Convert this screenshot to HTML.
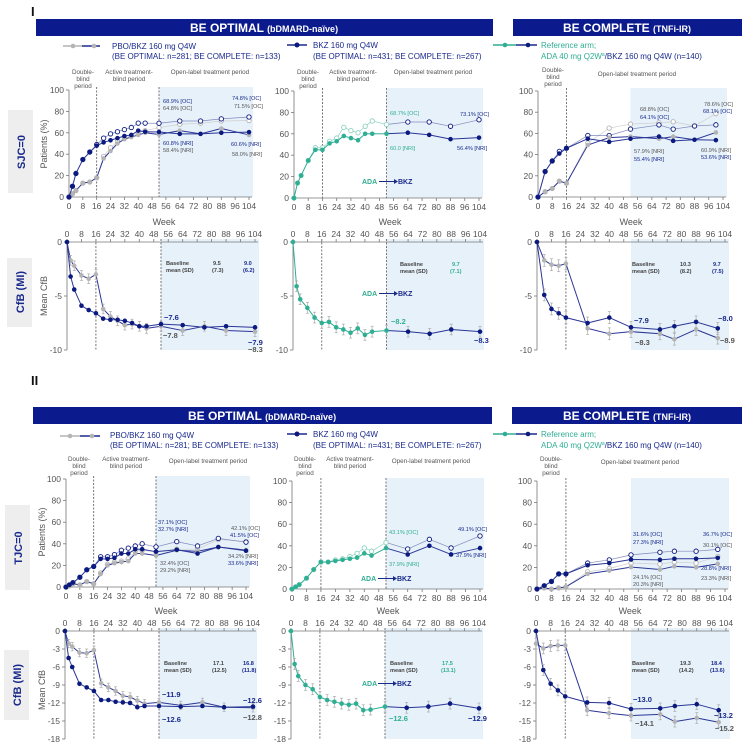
<!DOCTYPE html>
<html><head><meta charset="utf-8">
<style>
body{margin:0;background:#fff;}
svg{display:block;font-family:"Liberation Sans",sans-serif;}
.pl{font-size:6.3px;fill:#555;text-anchor:middle}
.tk{font-size:8.5px;fill:#555}
.an{font-size:5.6px}
.nv{fill:#1a2a8c}.gr{fill:#555}.gn{fill:#2fae93}
</style></head>
<body>
<svg id="fig" width="746" height="749" viewBox="0 0 746 749">
<!-- Section I -->
<text x="31" y="16" font-size="13" font-weight="bold" fill="#111">I</text>
<rect x="36" y="19" width="457" height="17" fill="#0b1a8c"/>
<text x="264" y="32" font-size="12" font-weight="bold" fill="#fff" text-anchor="middle">BE OPTIMAL <tspan font-size="9">(bDMARD-naïve)</tspan></text>
<rect x="513" y="19" width="229" height="17" fill="#0b1a8c"/>
<text x="627" y="32" font-size="12" font-weight="bold" fill="#fff" text-anchor="middle">BE COMPLETE <tspan font-size="9">(TNFi-IR)</tspan></text>
<g>
<line x1="63" y1="46" x2="82" y2="46" stroke="#b4b4b4" stroke-width="1.5"/><line x1="82" y1="46" x2="100" y2="46" stroke="#1a2a8c" stroke-width="1.5"/>
<circle cx="73" cy="46" r="2.3" fill="#b4b4b4"/><circle cx="94" cy="46" r="2.3" fill="#b4b4b4"/>
<text x="112" y="49" font-size="8" fill="#1a2a8c">PBO/BKZ 160 mg Q4W</text>
<text x="112" y="59" font-size="8" fill="#1a2a8c">(BE OPTIMAL: n=281; BE COMPLETE: n=133)</text>
<line x1="287" y1="45" x2="307" y2="45" stroke="#1a2a8c" stroke-width="1.5"/><circle cx="297" cy="45" r="2.5" fill="#0b1a7e"/>
<text x="313" y="48" font-size="8" fill="#1a2a8c">BKZ 160 mg Q4W</text>
<text x="313" y="59" font-size="8" fill="#1a2a8c">(BE OPTIMAL: n=431; BE COMPLETE: n=267)</text>
<line x1="493" y1="45" x2="516" y2="45" stroke="#2fae93" stroke-width="1.5"/><line x1="516" y1="45" x2="537" y2="45" stroke="#1a2a8c" stroke-width="1.5"/>
<circle cx="505" cy="45" r="2.3" fill="#2fae93"/><circle cx="528" cy="45" r="2.3" fill="#0b1a7e"/>
<text x="541" y="48" font-size="8" fill="#2fae93">Reference arm;</text>
<text x="541" y="59" font-size="8" fill="#2fae93">ADA 40 mg Q2W<tspan font-size="5" dy="-3">a</tspan><tspan dy="3" fill="#1a2a8c">/BKZ 160 mg Q4W (n=140)</tspan></text>
</g>
<g>
<text class="pl" x="83" y="74">Double-</text><text class="pl" x="83" y="81">blind</text><text class="pl" x="83" y="88">period</text>
<text class="pl" x="129" y="74">Active treatment-</text><text class="pl" x="129" y="81">blind period</text>
<text class="pl" x="210" y="74">Open-label treatment period</text>
<text class="pl" x="308" y="74">Double-</text><text class="pl" x="308" y="81">blind</text><text class="pl" x="308" y="88">period</text>
<text class="pl" x="353" y="74">Active treatment-</text><text class="pl" x="353" y="81">blind period</text>
<text class="pl" x="433" y="74">Open-label treatment period</text>
<text class="pl" x="553" y="72">Double-</text><text class="pl" x="553" y="79">blind</text><text class="pl" x="553" y="86">period</text>
<text class="pl" x="637" y="76">Open-label treatment period</text>
</g>
<rect x="8" y="110" width="25" height="83" fill="#eee"/>
<text transform="translate(25,152) rotate(-90)" font-size="11" font-weight="bold" fill="#1a2a8c" text-anchor="middle">SJC=0</text>
<rect x="7" y="258" width="25" height="69" fill="#eee"/>
<text transform="translate(24,292) rotate(-90)" font-size="11" font-weight="bold" fill="#1a2a8c" text-anchor="middle">CfB (MI)</text>
<text transform="translate(47,144) rotate(-90)" font-size="9" fill="#555" text-anchor="middle">Patients (%)</text>
<text transform="translate(47,296) rotate(-90)" font-size="9" fill="#555" text-anchor="middle">Mean CfB</text>
<text x="164" y="225" font-size="9" fill="#555" text-anchor="middle">Week</text>
<text x="390" y="225" font-size="9" fill="#555" text-anchor="middle">Week</text>
<text x="631" y="225" font-size="9" fill="#555" text-anchor="middle">Week</text>

<!-- Section II -->
<text x="31" y="385" font-size="13" font-weight="bold" fill="#111">II</text>
<rect x="33" y="407" width="459" height="17" fill="#0b1a8c"/>
<text x="262" y="420" font-size="12" font-weight="bold" fill="#fff" text-anchor="middle">BE OPTIMAL <tspan font-size="9">(bDMARD-naïve)</tspan></text>
<rect x="512" y="407" width="230" height="17" fill="#0b1a8c"/>
<text x="627" y="420" font-size="12" font-weight="bold" fill="#fff" text-anchor="middle">BE COMPLETE <tspan font-size="9">(TNFi-IR)</tspan></text>
<g>
<line x1="60" y1="436" x2="80" y2="436" stroke="#b4b4b4" stroke-width="1.5"/><line x1="80" y1="436" x2="100" y2="436" stroke="#1a2a8c" stroke-width="1.5"/>
<circle cx="70" cy="436" r="2.3" fill="#b4b4b4"/><circle cx="92" cy="436" r="2.3" fill="#b4b4b4"/>
<text x="110" y="438" font-size="8" fill="#1a2a8c">PBO/BKZ  160 mg Q4W</text>
<text x="110" y="448" font-size="8" fill="#1a2a8c">(BE OPTIMAL: n=281; BE COMPLETE: n=133)</text>
<line x1="287" y1="434" x2="307" y2="434" stroke="#1a2a8c" stroke-width="1.5"/><circle cx="297" cy="434" r="2.5" fill="#0b1a7e"/>
<text x="313" y="437" font-size="8" fill="#1a2a8c">BKZ  160 mg Q4W</text>
<text x="313" y="448" font-size="8" fill="#1a2a8c">(BE OPTIMAL: n=431; BE COMPLETE: n=267)</text>
<line x1="493" y1="434" x2="516" y2="434" stroke="#2fae93" stroke-width="1.5"/><line x1="516" y1="434" x2="537" y2="434" stroke="#1a2a8c" stroke-width="1.5"/>
<circle cx="505" cy="434" r="2.3" fill="#2fae93"/><circle cx="528" cy="434" r="2.3" fill="#0b1a7e"/>
<text x="541" y="437" font-size="8" fill="#2fae93">Reference arm;</text>
<text x="541" y="448" font-size="8" fill="#2fae93">ADA 40 mg Q2W<tspan font-size="5" dy="-3">a</tspan><tspan dy="3" fill="#1a2a8c">/BKZ  160 mg Q4W (n=140)</tspan></text>
</g>
<g>
<text class="pl" x="79" y="461">Double-</text><text class="pl" x="79" y="468">blind</text><text class="pl" x="79" y="475">period</text>
<text class="pl" x="126" y="461">Active treatment-</text><text class="pl" x="126" y="468">blind period</text>
<text class="pl" x="208" y="463">Open-label treatment period</text>
<text class="pl" x="305" y="461">Double-</text><text class="pl" x="305" y="468">blind</text><text class="pl" x="305" y="475">period</text>
<text class="pl" x="350" y="461">Active treatment-</text><text class="pl" x="350" y="468">blind period</text>
<text class="pl" x="431" y="463">Open-label treatment period</text>
<text class="pl" x="551" y="461">Double-</text><text class="pl" x="551" y="468">blind</text><text class="pl" x="551" y="475">period</text>
<text class="pl" x="640" y="464">Open-label treatment period</text>
</g>
<rect x="5" y="505" width="25" height="85" fill="#eee"/>
<text transform="translate(22,548) rotate(-90)" font-size="11" font-weight="bold" fill="#1a2a8c" text-anchor="middle">TJC=0</text>
<rect x="4" y="650" width="25" height="70" fill="#eee"/>
<text transform="translate(21,685) rotate(-90)" font-size="11" font-weight="bold" fill="#1a2a8c" text-anchor="middle">CfB (MI)</text>
<text transform="translate(45,532) rotate(-90)" font-size="9" fill="#555" text-anchor="middle">Patients (%)</text>
<text transform="translate(45,690) rotate(-90)" font-size="9" fill="#555" text-anchor="middle">Mean CfB</text>
<text x="166" y="614" font-size="9" fill="#555" text-anchor="middle">Week</text>
<text x="388" y="614" font-size="9" fill="#555" text-anchor="middle">Week</text>
<text x="630" y="614" font-size="9" fill="#555" text-anchor="middle">Week</text>

<g id="charts"></g>

<!-- annotations -->
<g class="an">
<text x="163" y="103" class="nv">68.9% [OC]</text><text x="163" y="110" class="gr">64.8% [OC]</text>
<text x="232" y="100" class="nv">74.8% [OC]</text><text x="234" y="108" class="gr">71.5% [OC]</text>
<text x="163" y="145" class="nv">60.8% [NRI]</text><text x="163" y="152" class="gr">58.4% [NRI]</text>
<text x="231" y="146" class="nv">60.6% [NRI]</text><text x="232" y="156" class="gr">58.0% [NRI]</text>
<text x="390" y="115" class="gn">68.7% [OC]</text><text x="460" y="116" class="nv">73.1% [OC]</text>
<text x="390" y="150" class="gn">60.0 [NRI]</text><text x="457" y="150" class="nv">56.4% [NRI]</text>
<text x="640" y="111" class="gr">68.8% [OC]</text><text x="640" y="119" class="nv">64.1% [OC]</text>
<text x="704" y="106" class="gr">78.6% [OC]</text><text x="703" y="113" class="nv">68.1% [OC]</text>
<text x="634" y="153" class="gr">57.9% [NRI]</text><text x="634" y="161" class="nv">55.4% [NRI]</text>
<text x="701" y="152" class="gr">60.9% [NRI]</text><text x="701" y="159" class="nv">53.6% [NRI]</text>
<g font-weight="bold" font-size="7" fill="#2fae93"><text x="362" y="184">ADA</text><text x="362" y="296">ADA</text><text x="361" y="581">ADA</text><text x="362" y="686">ADA</text></g>
<g font-weight="bold" font-size="7" fill="#1a2a8c"><text x="398" y="184">BKZ</text><text x="398" y="296">BKZ</text><text x="397" y="581">BKZ</text><text x="397" y="686">BKZ</text></g>
<g stroke="#1a2a8c" stroke-width="1"><line x1="379" y1="181.5" x2="394" y2="181.5"/><line x1="379" y1="293.5" x2="394" y2="293.5"/><line x1="378" y1="578.5" x2="393" y2="578.5"/><line x1="378" y1="683.5" x2="393" y2="683.5"/></g>
<g fill="#1a2a8c"><path d="M394 179 L398 181.5 L394 184Z"/><path d="M394 291 L398 293.5 L394 296Z"/><path d="M393 576 L397 578.5 L393 581Z"/><path d="M393 681 L397 683.5 L393 686Z"/></g>
<g font-weight="bold" fill="#444"><text x="166" y="265">Baseline</text><text x="166" y="272">mean (SD)</text><text x="213" y="265">9.5</text><text x="212" y="272">(7.3)</text></g>
<g font-weight="bold" fill="#1a2a8c"><text x="244" y="265">9.0</text><text x="243" y="272">(6.2)</text></g>
<g font-weight="bold" fill="#444"><text x="400" y="266">Baseline</text><text x="400" y="273">mean (SD)</text></g>
<g font-weight="bold" fill="#2fae93"><text x="452" y="266">9.7</text><text x="450" y="273">(7.1)</text></g>
<g font-weight="bold" fill="#444"><text x="632" y="266">Baseline</text><text x="632" y="273">mean (SD)</text><text x="680" y="266">10.3</text><text x="680" y="273">(8.2)</text></g>
<g font-weight="bold" fill="#1a2a8c"><text x="713" y="266">9.7</text><text x="712" y="273">(7.5)</text></g>
<g font-size="7.5" font-weight="bold">
<text x="164" y="320" class="nv">−7.6</text><text x="163" y="338" class="gr">−7.8</text>
<text x="248" y="345" class="nv">−7.9</text><text x="248" y="352" class="gr">−8.3</text>
<text x="391" y="324" class="gn">−8.2</text><text x="474" y="343" class="nv">−8.3</text>
<text x="634" y="323" class="nv">−7.9</text><text x="635" y="345" class="gr">−8.3</text>
<text x="718" y="321" class="nv">−8.0</text><text x="720" y="343" class="gr">−8.9</text>
</g>
<text x="158" y="524" class="nv">37.1% [OC]</text><text x="158" y="531" class="nv">32.7% [NRI]</text>
<text x="231" y="530" class="gr">42.1% [OC]</text><text x="230" y="537" class="nv">41.5% [OC]</text>
<text x="160" y="565" class="gr">32.4% [OC]</text><text x="160" y="572" class="gr">29.2% [NRI]</text>
<text x="228" y="558" class="gr">34.2% [NRI]</text><text x="228" y="565" class="nv">33.6% [NRI]</text>
<text x="389" y="534" class="gn">43.1% [OC]</text><text x="458" y="531" class="nv">49.1% [OC]</text>
<text x="389" y="566" class="gn">37.9% [NRI]</text><text x="456" y="557" class="nv">37.9% [NRI]</text>
<text x="633" y="536" class="nv">31.6% [OC]</text><text x="633" y="544" class="nv">27.3% [NRI]</text>
<text x="703" y="536" class="nv">36.7% [OC]</text><text x="703" y="547" class="gr">30.1% [OC]</text>
<text x="633" y="579" class="gr">24.1% [OC]</text><text x="633" y="586" class="gr">20.3% [NRI]</text>
<text x="701" y="570" class="nv">28.8% [NRI]</text><text x="701" y="580" class="gr">23.3% [NRI]</text>
<g font-weight="bold" fill="#444"><text x="164" y="665">Baseline</text><text x="164" y="672">mean (SD)</text><text x="213" y="665">17.1</text><text x="212" y="672">(12.5)</text></g>
<g font-weight="bold" fill="#1a2a8c"><text x="243" y="665">16.8</text><text x="242" y="672">(11.8)</text></g>
<g font-weight="bold" fill="#444"><text x="390" y="665">Baseline</text><text x="390" y="672">mean (SD)</text></g>
<g font-weight="bold" fill="#2fae93"><text x="442" y="665">17.5</text><text x="441" y="672">(13.1)</text></g>
<g font-weight="bold" fill="#444"><text x="632" y="665">Baseline</text><text x="632" y="672">mean (SD)</text><text x="680" y="665">19.3</text><text x="679" y="672">(14.2)</text></g>
<g font-weight="bold" fill="#1a2a8c"><text x="711" y="665">18.4</text><text x="710" y="672">(13.6)</text></g>
<g font-size="7.5" font-weight="bold">
<text x="162" y="697" class="nv">−11.9</text><text x="162" y="722" class="nv">−12.6</text>
<text x="243" y="703" class="nv">−12.6</text><text x="243" y="720" class="gr">−12.8</text>
<text x="389" y="721" class="gn">−12.6</text><text x="468" y="721" class="nv">−12.9</text>
<text x="633" y="702" class="nv">−13.0</text><text x="635" y="726" class="gr">−14.1</text>
<text x="714" y="718" class="nv">−13.2</text><text x="715" y="731" class="gr">−15.2</text>
</g>
</g>
</svg>
<script>
// ---- data ----
const W = [0,2,4,8,12,16,20,24,28,32,36,40,44,52,64,76,88,104];
const R = [0,4,8,12,16,28,40,52,68,76,88,100];
const xTicks = [0,8,16,24,32,40,48,56,64,72,80,88,96,104];
const pctTicks = [0,20,40,60,80,100];
const cfbTicksI = [0,-5,-10];
const cfbTicksII = [0,-3,-6,-9,-12,-15,-18];

const sjcOptBkzNri = [0,10,22,35,42,48,51,53,55,57,58,62,61,60.8,59,59,60,60.6];
const sjcOptBkzOc  = [0,10,22,35,42,49,55,59,61,63,65,69,69,68.9,71,71,73,74.8];
const sjcOptPboNri = [0,3,6,13,14,18,36,43,50,54,56,58,60,58.4,62,59,64,58];
const sjcOptPboOc  = [0,3,6,13,14,18,38,46,52,55,57,60,62,64.8,68,69,71,71.5];
const sjcAdaNri = [0,14,21,35,45,45,51,53,58,56,54,60,60,60,61,59,55,56.4];
const sjcAdaOc  = [0,14,21,35,47,47,53,56,66,63,61,67,72,68.7,71,71,67,73.1];
const sjcCmpBkzNri = [0,24,34,41,46,55,52,55,57,53,54,53.6];
const sjcCmpBkzOc  = [0,24,34,43,46,58,58,64,68,64,67,68.1];
const sjcCmpPboNri = [0,5,8,15,13,49,56,57,55,57,54,60.9];
const sjcCmpPboOc  = [0,5,8,15,13,51,65,68.8,70,71,67,78.6];

const cfbOptBkzI = [0,-3.2,-4.4,-5.9,-6.3,-6.6,-7.1,-7.2,-7.2,-7.3,-7.5,-7.8,-7.8,-7.6,-7.7,-7.9,-7.8,-7.9];
const cfbOptPboI = [0,-1.7,-2.2,-3.1,-3.4,-3.0,-6.2,-6.9,-7.3,-7.7,-7.6,-7.8,-8.0,-7.8,-8.2,-7.8,-8.2,-8.3];
const cfbAdaI = [0,-4.1,-5.3,-6.1,-7.0,-7.5,-7.4,-7.9,-8.1,-8.4,-8.0,-8.6,-8.3,-8.2,-8.3,-8.5,-8.1,-8.3];
const cfbCmpBkzI = [0,-4.9,-6.2,-6.6,-7.0,-7.5,-7.0,-7.9,-8.1,-7.8,-7.4,-8.0];
const cfbCmpPboI = [0,-1.7,-2.1,-2.2,-2.0,-8.0,-8.5,-8.3,-8.5,-9.0,-8.1,-8.9];

const tjcOptBkzNri = [0,2,4,9,16,19,26,26,27,31,31,35,35,32.7,34.5,31,37,33.6];
const tjcOptBkzOc  = [0,2,4,9,16,19,28,28,30,34,36,38,40,37.1,42,38,45,41.5];
const tjcOptPboNri = [0,1,3,2,5,3,12,20,22,23,24,31,31,29.2,34,33,37,34.2];
const tjcOptPboOc  = [0,1,3,2,5,3,13,21,23,24,26,33,34,32.4,35,35,44,42.1];
const tjcAdaNri = [0,2,4,10,18,25,25,26,27,28,29,33,31,37.9,32,40,32,37.9];
const tjcAdaOc  = [0,2,4,10,18,25,25,27,28,30,33,38,35,43.1,37,46,38,49.1];
const tjcCmpBkzNri = [0,3,7,14,14,22,24,27.3,27,28,28,28.8];
const tjcCmpBkzOc  = [0,3,7,14,14,24,27,31.6,34,35,35,36.7];
const tjcCmpPboNri = [0,1,0,1,2,14,17,20.3,18,21,20,23.3];
const tjcCmpPboOc  = [0,1,0,1,2,16,19,24.1,23,25,24,30.1];

const cfbOptBkzII = [0,-4.5,-6.0,-8.8,-9.4,-10.0,-11.5,-11.5,-11.8,-11.9,-12.0,-12.7,-12.5,-12.5,-12.6,-12.5,-12.7,-12.6];
const cfbOptPboII = [0,-2.1,-2.6,-3.6,-3.7,-3.2,-8.7,-9.4,-10.0,-10.8,-11.0,-11.6,-12.1,-11.9,-12.4,-11.9,-12.7,-12.8];
const cfbAdaII = [0,-5.5,-7.5,-9.0,-9.7,-11.0,-11.5,-11.8,-12.1,-12.3,-12.1,-13.2,-13.1,-12.6,-12.8,-12.6,-12.1,-12.9];
const cfbCmpBkzII = [0,-6.5,-8.8,-9.9,-10.9,-11.9,-12.0,-13.0,-12.9,-12.5,-12.2,-13.2];
const cfbCmpPboII = [-2.1,-2.9,-2.5,-2.4,-2.4,-13.2,-13.7,-14.1,-13.9,-15.1,-14.5,-15.2];

// ---- rendering ----
const NS='http://www.w3.org/2000/svg';
const root=document.getElementById('charts');
const NAVY='#0b1a7e', NAVYL='#2a3596', GRAY='#b4b4b4', GREEN='#2fae93', NAVYOC='#8088bb', GRAYOC='#cfcfcf';
function el(tag,attrs,parent){const e=document.createElementNS(NS,tag);for(const k in attrs)e.setAttribute(k,attrs[k]);(parent||root).appendChild(e);return e;}

function makeChart(name,box,series){
  const g=el('g',{});
  
  
  const sx=w=>box.x0+w*(box.x1-box.x0)/104;
  const sy=v=>box.yv0+(v-box.v0)*(box.yv1-box.yv0)/(box.v1-box.v0);
  const yTop=Math.min(sy(box.v0),sy(box.v1)), yBot=Math.max(sy(box.v0),sy(box.v1));
  const sh=el('rect',{x:sx(52),y:yTop-3,width:sx(104)-sx(52)+4,height:yBot-yTop+3,fill:'#e6f1fa'},g);
  
  
  const dashes=box.single?[16]:[16,52];
  dashes.forEach(d=>{el('line',{x1:sx(d),x2:sx(d),y1:yTop-3,y2:yBot,stroke:'#555','stroke-width':0.8,'stroke-dasharray':'2,1.5'},g);});
  const axY=sy(0);
  el('line',{x1:box.x0,x2:box.x0,y1:yTop,y2:yBot,stroke:'#777','stroke-width':0.8},g);
  el('line',{x1:box.x0,x2:sx(104)+3,y1:axY,y2:axY,stroke:'#777','stroke-width':0.8},g);
  box.yt.forEach(t=>{
    el('line',{x1:box.x0-3,x2:box.x0,y1:sy(t),y2:sy(t),stroke:'#777','stroke-width':0.8},g);
    const tx=el('text',{x:box.x0-5,y:sy(t)+3,'text-anchor':'end',class:'tk'},g);tx.textContent=t;
    
    
  });
  xTicks.forEach(t=>{
    el('line',{x1:sx(t),x2:sx(t),y1:axY,y2:box.pct?axY+3:axY-3,stroke:'#777','stroke-width':0.8},g);
    const tx=el('text',{x:sx(t),y:box.pct?axY+12:axY-5,'text-anchor':'middle',class:'tk'},g);tx.textContent=t;
    
    
  });
  series.forEach(s=>{
    const sg=el('g',{},g);
    
    
    const pts=s.w.map((w,i)=>[sx(w),sy(s.v[i]),w]);
    for(let i=1;i<pts.length;i++){
      const c=(s.split&&pts[i][2]<=52)?s.split:s.line;
      el('line',{x1:pts[i-1][0],y1:pts[i-1][1],x2:pts[i][0],y2:pts[i][1],stroke:c,'stroke-width':s.open?0.7:1},sg);
    }
    if(s.err){pts.forEach((p,i)=>{if(i===0&&s.v[0]===0)return;const e=box.err;
      const a=sy(s.v[i]-e),b=sy(s.v[i]+e);
      el('line',{x1:p[0],x2:p[0],y1:a,y2:b,stroke:'#aaa','stroke-width':0.7},sg);
      el('line',{x1:p[0]-1.5,x2:p[0]+1.5,y1:a,y2:a,stroke:'#aaa','stroke-width':0.7},sg);
      el('line',{x1:p[0]-1.5,x2:p[0]+1.5,y1:b,y2:b,stroke:'#aaa','stroke-width':0.7},sg);});}
    pts.forEach(p=>{
      const c=(s.split&&p[2]<=52)?s.split:s.mk;
      const m=s.open?el('circle',{cx:p[0],cy:p[1],r:2.2,fill:'#fff',stroke:c,'stroke-width':0.9},sg):el('circle',{cx:p[0],cy:p[1],r:2.3,fill:c},sg);
      
      
    });
  });
}
function pctBox(x0,x1,y0,y100,single){return {x0,x1,yv0:y0,yv1:y100,v0:0,v1:100,yt:pctTicks,pct:true,single};}
function cfbBox(x0,x1,y0,ymin,vmin,ticks,err,single){return {x0,x1,yv0:y0,yv1:ymin,v0:0,v1:vmin,yt:ticks,pct:false,err,single};}
const S=(name,w,v,line,mk,open,extra)=>Object.assign({name,w,v,line,mk,open},extra||{});

makeChart('sjc-be-optimal-pbo-bkz-chart',pctBox(69,249,197,90),[
  S('pbo-oc',W,sjcOptPboOc,GRAYOC,GRAY,true),S('bkz-oc',W,sjcOptBkzOc,NAVYOC,NAVY,true),
  S('pbo-nri',W,sjcOptPboNri,NAVYL,GRAY,false),S('bkz-nri',W,sjcOptBkzNri,NAVYL,NAVY,false)]);
makeChart('sjc-be-optimal-ada-chart',pctBox(294,479,198,91),[
  S('ada-oc',W,sjcAdaOc,NAVYOC,NAVY,true,{split:'#8fd3c2'}),S('ada-nri',W,sjcAdaNri,NAVYL,NAVY,false,{split:GREEN})]);
makeChart('sjc-be-complete-chart',pctBox(538,723,197,91,true),[
  S('pbo-oc',R,sjcCmpPboOc,GRAYOC,GRAY,true),S('bkz-oc',R,sjcCmpBkzOc,NAVYOC,NAVY,true),
  S('pbo-nri',R,sjcCmpPboNri,NAVYL,GRAY,false),S('bkz-nri',R,sjcCmpBkzNri,NAVYL,NAVY,false)]);
makeChart('cfb-i-be-optimal-chart',cfbBox(67,255,242,350,-10,cfbTicksI,0.45),[
  S('pbo-cfb',W,cfbOptPboI,NAVYL,GRAY,false,{err:true}),S('bkz-cfb',W,cfbOptBkzI,NAVYL,NAVY,false)]);
makeChart('cfb-i-ada-chart',cfbBox(293,480,242,350,-10,cfbTicksI,0.5),[
  S('ada-cfb',W,cfbAdaI,NAVYL,NAVY,false,{split:GREEN,err:true})]);
makeChart('cfb-i-be-complete-chart',cfbBox(537,725,242,350,-10,cfbTicksI,0.55,true),[
  S('pbo-cfb',R,cfbCmpPboI,NAVYL,GRAY,false,{err:true}),S('bkz-cfb',R,cfbCmpBkzI,NAVYL,NAVY,false,{err:true})]);
makeChart('tjc-be-optimal-pbo-bkz-chart',pctBox(66,246,587,479),[
  S('pbo-oc',W,tjcOptPboOc,GRAYOC,GRAY,true),S('bkz-oc',W,tjcOptBkzOc,NAVYOC,NAVY,true),
  S('pbo-nri',W,tjcOptPboNri,NAVYL,GRAY,false),S('bkz-nri',W,tjcOptBkzNri,NAVYL,NAVY,false)]);
makeChart('tjc-be-optimal-ada-chart',pctBox(292,480,589,481),[
  S('ada-oc',W,tjcAdaOc,NAVYOC,NAVY,true,{split:'#8fd3c2'}),S('ada-nri',W,tjcAdaNri,NAVYL,NAVY,false,{split:GREEN})]);
makeChart('tjc-be-complete-chart',pctBox(537,725,589,481,true),[
  S('pbo-oc',R,tjcCmpPboOc,GRAYOC,GRAY,true),S('bkz-oc',R,tjcCmpBkzOc,NAVYOC,NAVY,true),
  S('pbo-nri',R,tjcCmpPboNri,NAVYL,GRAY,false),S('bkz-nri',R,tjcCmpBkzNri,NAVYL,NAVY,false)]);
makeChart('cfb-ii-be-optimal-chart',cfbBox(65,253,631,739,-18,cfbTicksII,0.7),[
  S('pbo-cfb',W,cfbOptPboII,NAVYL,GRAY,false,{err:true}),S('bkz-cfb',W,cfbOptBkzII,NAVYL,NAVY,false)]);
makeChart('cfb-ii-ada-chart',cfbBox(291,479,631,739,-18,cfbTicksII,0.9),[
  S('ada-cfb',W,cfbAdaII,NAVYL,NAVY,false,{split:GREEN,err:true})]);
makeChart('cfb-ii-be-complete-chart',cfbBox(536,726,631,739,-18,cfbTicksII,0.9,true),[
  S('pbo-cfb',R,cfbCmpPboII,NAVYL,GRAY,false,{err:true}),S('bkz-cfb',R,cfbCmpBkzII,NAVYL,NAVY,false,{err:true})]);
</script>
</body></html>
